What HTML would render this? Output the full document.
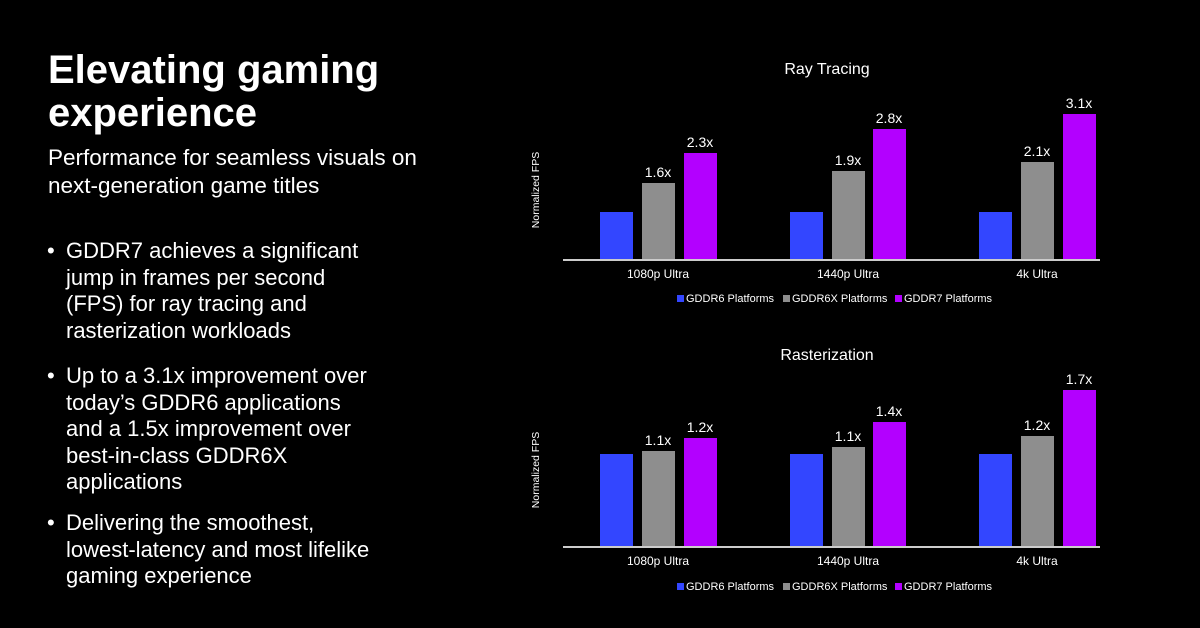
<!DOCTYPE html>
<html><head><meta charset="utf-8"><style>
html,body{margin:0;padding:0;background:#000;}
svg{display:block}
text{font-family:"Liberation Sans",Arial,sans-serif;fill:#fff}
</style></head><body>
<svg width="1200" height="628" viewBox="0 0 1200 628" xmlns="http://www.w3.org/2000/svg">
<rect width="1200" height="628" fill="#000"/>
<g font-weight="bold" font-size="40">
<text x="48" y="83">Elevating gaming</text>
<text x="48" y="126">experience</text>
</g>
<g font-size="22.5" fill="#fff">
<text x="48" y="165">Performance for seamless visuals on</text>
<text x="48" y="193">next-generation game titles</text>
</g>
<g font-size="22" fill="#eee">
<text x="47" y="258">•</text>
<text x="66" y="258">GDDR7 achieves a significant</text>
<text x="66" y="285">jump in frames per second</text>
<text x="66" y="311">(FPS) for ray tracing and</text>
<text x="66" y="338">rasterization workloads</text>
<text x="47" y="383">•</text>
<text x="66" y="383">Up to a 3.1x improvement over</text>
<text x="66" y="410">today’s GDDR6 applications</text>
<text x="66" y="436">and a 1.5x improvement over</text>
<text x="66" y="463">best-in-class GDDR6X</text>
<text x="66" y="489">applications</text>
<text x="47" y="530">•</text>
<text x="66" y="530">Delivering the smoothest,</text>
<text x="66" y="557">lowest-latency and most lifelike</text>
<text x="66" y="583">gaming experience</text>
</g>

<!-- Top chart -->
<text x="827" y="74" font-size="16" text-anchor="middle">Ray Tracing</text>
<text transform="translate(539,190) rotate(-90)" font-size="10.5" text-anchor="middle" fill="#ddd">Normalized FPS</text>
<rect x="600" y="212" width="33" height="48" fill="#3346ff"/>
<rect x="642" y="183" width="33" height="77" fill="#8e8e8e"/>
<rect x="684" y="153" width="33" height="107" fill="#b300ff"/>
<rect x="790" y="212" width="33" height="48" fill="#3346ff"/>
<rect x="832" y="171" width="33" height="89" fill="#8e8e8e"/>
<rect x="873" y="129" width="33" height="131" fill="#b300ff"/>
<rect x="979" y="212" width="33" height="48" fill="#3346ff"/>
<rect x="1021" y="162" width="33" height="98" fill="#8e8e8e"/>
<rect x="1063" y="114" width="33" height="146" fill="#b300ff"/>
<rect x="563" y="259" width="537" height="2" fill="#ccc"/>
<g font-size="14" text-anchor="middle">
<text x="658" y="177">1.6x</text><text x="700" y="147">2.3x</text>
<text x="848" y="165">1.9x</text><text x="889" y="123">2.8x</text>
<text x="1037" y="156">2.1x</text><text x="1079" y="108">3.1x</text>
</g>
<g font-size="12" text-anchor="middle" fill="#ddd">
<text x="658" y="278">1080p Ultra</text><text x="848" y="278">1440p Ultra</text><text x="1037" y="278">4k Ultra</text>
</g>
<g font-size="11" fill="#ddd">
<rect x="677" y="295" width="7" height="7" fill="#3346ff"/><text x="686" y="302">GDDR6 Platforms</text>
<rect x="783" y="295" width="7" height="7" fill="#8e8e8e"/><text x="792" y="302">GDDR6X Platforms</text>
<rect x="895" y="295" width="7" height="7" fill="#b300ff"/><text x="904" y="302">GDDR7 Platforms</text>
</g>

<!-- Bottom chart -->
<text x="827" y="360" font-size="16" text-anchor="middle">Rasterization</text>
<text transform="translate(539,470) rotate(-90)" font-size="10.5" text-anchor="middle" fill="#ddd">Normalized FPS</text>
<rect x="600" y="454" width="33" height="93" fill="#3346ff"/>
<rect x="642" y="451" width="33" height="96" fill="#8e8e8e"/>
<rect x="684" y="438" width="33" height="109" fill="#b300ff"/>
<rect x="790" y="454" width="33" height="93" fill="#3346ff"/>
<rect x="832" y="447" width="33" height="100" fill="#8e8e8e"/>
<rect x="873" y="422" width="33" height="125" fill="#b300ff"/>
<rect x="979" y="454" width="33" height="93" fill="#3346ff"/>
<rect x="1021" y="436" width="33" height="111" fill="#8e8e8e"/>
<rect x="1063" y="390" width="33" height="157" fill="#b300ff"/>
<rect x="563" y="546" width="537" height="2" fill="#ccc"/>
<g font-size="14" text-anchor="middle">
<text x="658" y="445">1.1x</text><text x="700" y="432">1.2x</text>
<text x="848" y="441">1.1x</text><text x="889" y="416">1.4x</text>
<text x="1037" y="430">1.2x</text><text x="1079" y="384">1.7x</text>
</g>
<g font-size="12" text-anchor="middle" fill="#ddd">
<text x="658" y="565">1080p Ultra</text><text x="848" y="565">1440p Ultra</text><text x="1037" y="565">4k Ultra</text>
</g>
<g font-size="11" fill="#ddd">
<rect x="677" y="583" width="7" height="7" fill="#3346ff"/><text x="686" y="590">GDDR6 Platforms</text>
<rect x="783" y="583" width="7" height="7" fill="#8e8e8e"/><text x="792" y="590">GDDR6X Platforms</text>
<rect x="895" y="583" width="7" height="7" fill="#b300ff"/><text x="904" y="590">GDDR7 Platforms</text>
</g>
</svg>
</body></html>
